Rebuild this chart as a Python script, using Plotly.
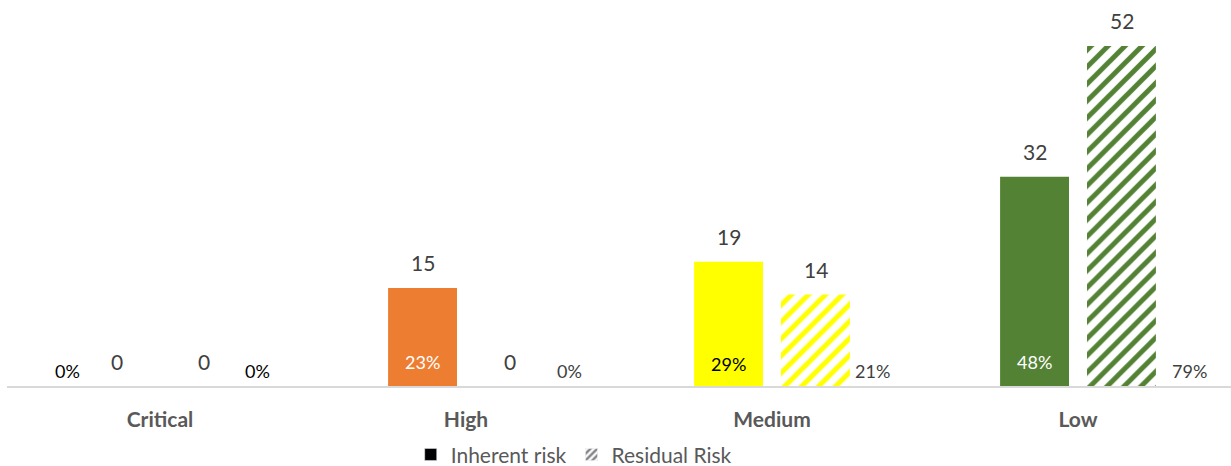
import plotly.graph_objects as go

categories = ["Critical", "High", "Medium", "Low"]
inherent = [0, 15, 19, 32]
residual = [0, 0, 14, 52]
inherent_pct = ["0%", "23%", "29%", "48%"]
residual_pct = ["0%", "0%", "21%", "79%"]
colors = ["#C00000", "#ED7D31", "#FFFF00", "#548235"]

FONT = "Lato, 'Open Sans', sans-serif"
GRAY = "#404040"

fig = go.Figure()
fig.add_trace(go.Bar(
    x=categories, y=inherent, name="Inherent risk", showlegend=False,
    offsetgroup="inh",
    marker=dict(color=colors, line=dict(width=0)),
))
fig.add_trace(go.Bar(
    x=categories, y=residual, name="Residual Risk", showlegend=False,
    offsetgroup="res",
    marker=dict(color="white", line=dict(width=0),
                pattern=dict(shape="/", fgcolor=colors, bgcolor="white",
                             size=12, solidity=0.42, fillmode="replace")),
))
# legend proxies
fig.add_trace(go.Bar(x=[None], y=[None], name="Inherent risk", offsetgroup="inh",
                     marker=dict(color="black")))
fig.add_trace(go.Bar(x=[None], y=[None], name="Residual Risk", offsetgroup="res",
                     marker=dict(color="white",
                                 pattern=dict(shape="/", fgcolor="black", bgcolor="white",
                                              size=6, solidity=0.5))))

OFF = 43.5
# value labels above bars
for i, c in enumerate(categories):
    fig.add_annotation(x=c, y=inherent[i], xref="x", yref="y", text=str(inherent[i]),
                       showarrow=False, xshift=-OFF, yshift=25,
                       font=dict(size=21, color=GRAY, family=FONT))
    fig.add_annotation(x=c, y=residual[i], xref="x", yref="y", text=str(residual[i]),
                       showarrow=False, xshift=OFF, yshift=25,
                       font=dict(size=21, color=GRAY, family=FONT))

# percentage labels
inh_shift = [-93, -44, -44, -44]
inh_col = ["black", "white", "black", "white"]
inh_y = [15, 24, 22, 24]
res_shift = [97, 103, 100, 111]
res_col = ["black", GRAY, GRAY, GRAY]
for i, c in enumerate(categories):
    fig.add_annotation(x=c, y=0, xref="x", yref="y", text=inherent_pct[i],
                       showarrow=False, xshift=inh_shift[i], yshift=inh_y[i],
                       font=dict(size=18, color=inh_col[i], family=FONT))
    fig.add_annotation(x=c, y=0, xref="x", yref="y", text=residual_pct[i],
                       showarrow=False, xshift=res_shift[i], yshift=15,
                       font=dict(size=18, color=res_col[i], family=FONT))

fig.update_layout(
    width=1231, height=466,
    margin=dict(l=7, r=0, t=10, b=80, autoexpand=False),
    plot_bgcolor="white", paper_bgcolor="white",
    barmode="group", bargap=0.432, bargroupgap=0.207,
    font=dict(family=FONT, color=GRAY),
    legend=dict(orientation="h", x=0.463, xanchor="center",
                yref="paper", y=-0.183, yanchor="middle",
                font=dict(size=21, color="#595959", family=FONT),
                traceorder="normal", itemwidth=30),
)
fig.update_xaxes(showline=True, linecolor="#D9D9D9", linewidth=2,
                 tickfont=dict(size=21, color="#595959", family=FONT),
                 ticks="", ticklabelstandoff=14,
                 tickprefix="<b>", ticksuffix="</b>")
fig.update_yaxes(range=[0, 57.5], visible=False, showgrid=False, zeroline=False)

fig.write_html("out.html")
